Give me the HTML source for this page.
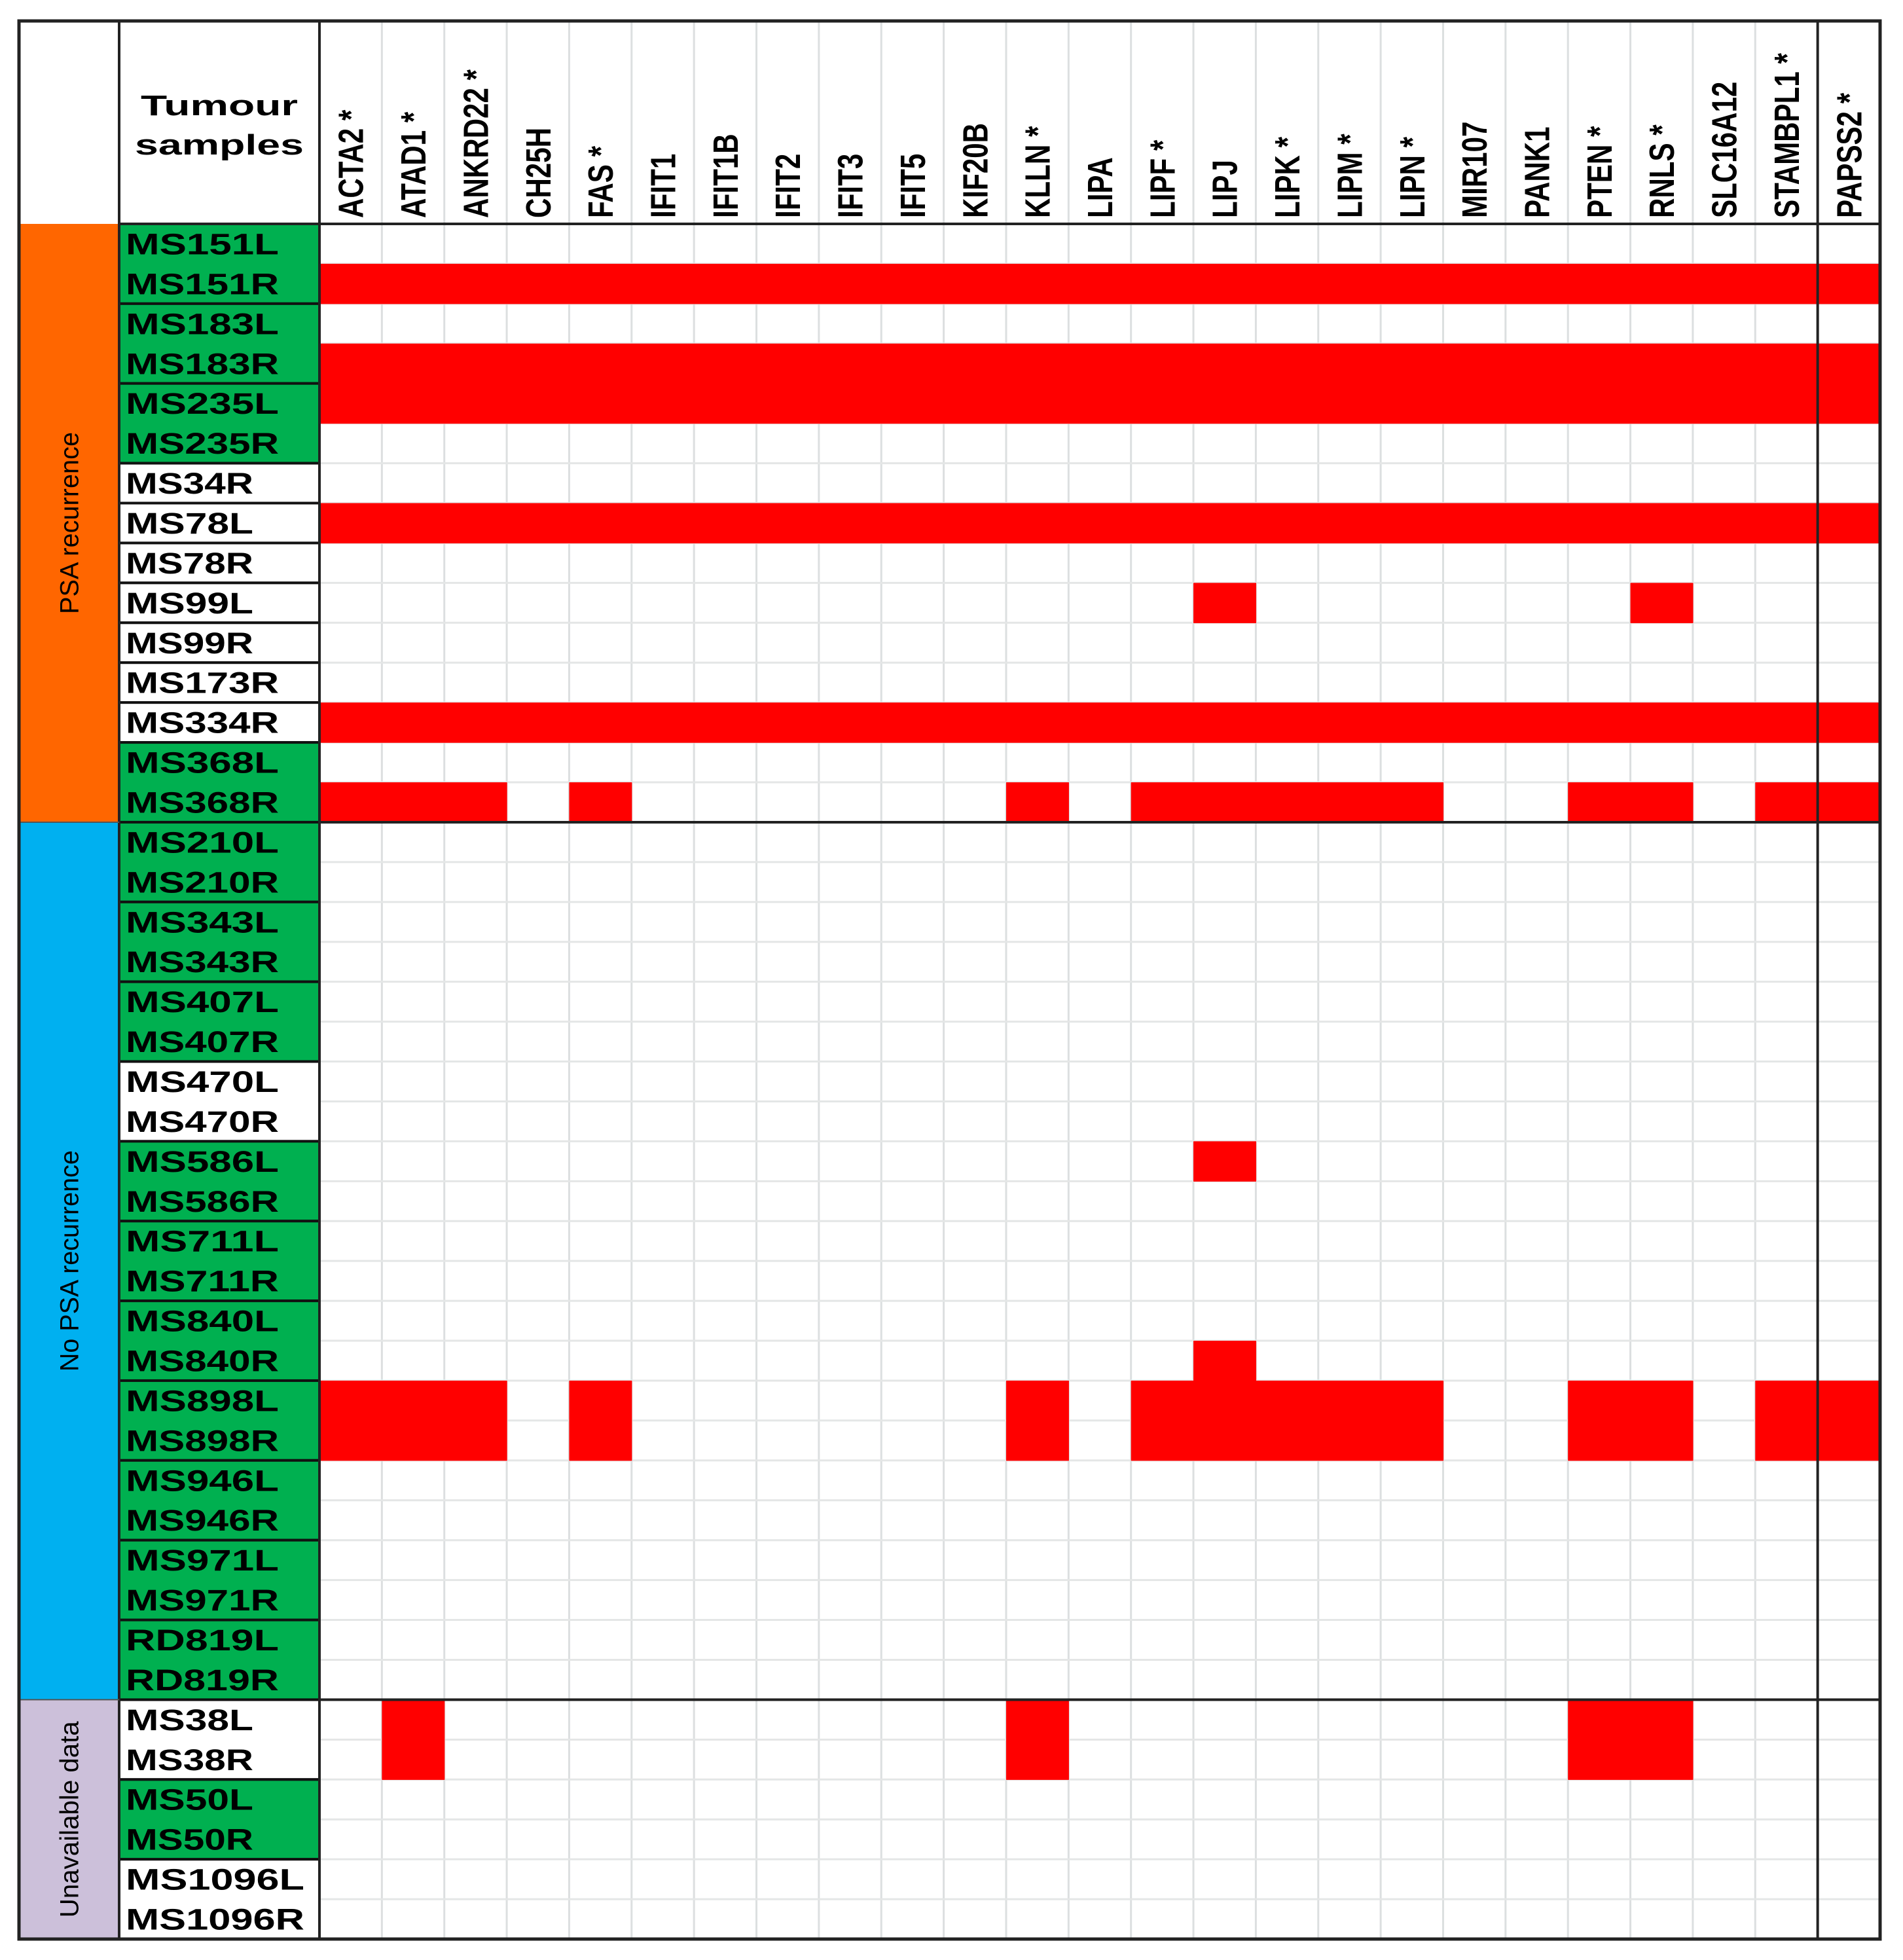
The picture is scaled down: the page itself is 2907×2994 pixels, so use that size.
<!DOCTYPE html>
<html><head><meta charset="utf-8"><style>
html,body{margin:0;padding:0;background:#fff;}
svg{display:block;}
</style></head><body>
<svg id="chart" width="2907" height="2994" viewBox="0 0 2907 2994" xmlns="http://www.w3.org/2000/svg"></svg>
<script>
const genes = ["ACTA2 *","ATAD1 *","ANKRD22 *","CH25H","FAS *","IFIT1","IFIT1B","IFIT2","IFIT3","IFIT5","KIF20B","KLLN *","LIPA","LIPF *","LIPJ","LIPK *","LIPM *","LIPN *","MIR107","PANK1","PTEN *","RNLS *","SLC16A12","STAMBPL1 *","PAPSS2 *"];
const samples = ["MS151L","MS151R","MS183L","MS183R","MS235L","MS235R","MS34R","MS78L","MS78R","MS99L","MS99R","MS173R","MS334R","MS368L","MS368R",
"MS210L","MS210R","MS343L","MS343R","MS407L","MS407R","MS470L","MS470R","MS586L","MS586R","MS711L","MS711R","MS840L","MS840R","MS898L","MS898R","MS946L","MS946R","MS971L","MS971R","RD819L","RD819R",
"MS38L","MS38R","MS50L","MS50R","MS1096L","MS1096R"];
// sample label blocks: [startRow, rowCount, green?]
const sampleBlocks = [[0,2,1],[2,2,1],[4,2,1],[6,1,0],[7,1,0],[8,1,0],[9,1,0],[10,1,0],[11,1,0],[12,1,0],[13,2,1],
[15,2,1],[17,2,1],[19,2,1],[21,2,0],[23,2,1],[25,2,1],[27,2,1],[29,2,1],[31,2,1],[33,2,1],[35,2,1],
[37,2,0],[39,2,1],[41,2,0]];
const groupNames = ["PSA recurrence","No PSA recurrence","Unavailable data"];
const groupRows = [15,22,6];
const groupColors = ["#ff6600","#00b0f0","#ccc0da"];
const ALL = genes.map((g,i)=>i);
const SET = [0,1,2,4,11,13,14,15,16,17,20,21,23,24];
const redCells = {1:ALL,3:ALL,4:ALL,7:ALL,12:ALL,9:[14,21],14:SET,23:[14],28:[14],29:SET,30:SET,37:[1,11,20,21],38:[1,11,20,21]};

const svg = document.getElementById('chart');
const NS = "http://www.w3.org/2000/svg";
const L=29, T=32, R=2872, B=2962, GX=182, SX=488, HY=342;
const colW=(R-SX)/genes.length, rowH=(B-HY)/samples.length;
const xOf=i=>SX+i*colW, yOf=r=>HY+r*rowH;
function el(tag, attrs, parent){const e=document.createElementNS(NS,tag);for(const k in attrs)e.setAttribute(k,attrs[k]);(parent||svg).appendChild(e);return e;}

// grid
const grid=el('g',{});


for(let i=0;i<=genes.length;i++) el('line',{x1:xOf(i),y1:T,x2:xOf(i),y2:B,stroke:'#dcdfe0','stroke-width':3},grid);
for(let r=0;r<=samples.length;r++) el('line',{x1:SX,y1:yOf(r),x2:R,y2:yOf(r),stroke:'#e4e6e6','stroke-width':3},grid);

// red cells
samples.forEach((s,r)=>{
  (redCells[r]||[]).forEach(c=>{
    const e=el('rect',{x:xOf(c),y:yOf(r),width:colW+0.6,height:rowH+0.6,fill:'#ff0000'});
    
    
  });
});

// group column
let gr=0;
groupNames.forEach((g,i)=>{
  const y0=yOf(gr), h=groupRows[i]*rowH;
  const e=el('rect',{x:L,y:y0,width:GX-L,height:h,fill:groupColors[i]});
  
  
  const cx=(L+GX)/2+14, cy=y0+h/2;
  const t=el('text',{x:cx,y:cy,transform:`rotate(-90 ${cx} ${cy})`,'text-anchor':'middle','font-family':'Liberation Sans, sans-serif','font-size':40,fill:'#000',textLength:[278,338,300][i],lengthAdjust:'spacingAndGlyphs'});
  t.textContent=g;
  
  
  gr+=groupRows[i];
});

// sample blocks
sampleBlocks.forEach(b=>{
  const e=el('rect',{x:GX,y:yOf(b[0]),width:SX-GX,height:b[1]*rowH,fill:b[2]?'#00b050':'#fff',stroke:'#111','stroke-width':4});
  
  
});
samples.forEach((s,r)=>{
  const t=el('text',{x:192,y:yOf(r)+rowH/2+16,'font-family':'Liberation Sans, sans-serif','font-weight':'bold','font-size':45,fill:'#000',textLength:s.length*39,lengthAdjust:'spacingAndGlyphs'});
  t.textContent=s;
  
  
});

// gene headers
genes.forEach((g,i)=>{
  const cx=xOf(i)+colW/2+19, cy=333;
  const t=el('text',{x:0,y:0,transform:`translate(${cx} ${cy}) rotate(-90) scale(0.78 1)`,'font-family':'Liberation Sans, sans-serif','font-weight':'bold','font-size':54,fill:'#000'});
  t.textContent=g;
  
  
});

// header title
const h1=el('text',{x:335,y:176,'text-anchor':'middle','font-family':'Liberation Sans, sans-serif','font-weight':'bold','font-size':44,textLength:240,lengthAdjust:'spacingAndGlyphs'});
h1.textContent='Tumour';


const h2=el('text',{x:335,y:236,'text-anchor':'middle','font-family':'Liberation Sans, sans-serif','font-weight':'bold','font-size':44,textLength:258,lengthAdjust:'spacingAndGlyphs'});
h2.textContent='samples';



// structural lines
const lines=el('g',{stroke:'#222','stroke-width':4});


el('line',{x1:GX,y1:T,x2:GX,y2:B},lines);
el('line',{x1:SX,y1:T,x2:SX,y2:B},lines);
el('line',{x1:xOf(24),y1:T,x2:xOf(24),y2:B},lines);
el('line',{x1:GX,y1:HY,x2:R,y2:HY},lines);
el('line',{x1:SX,y1:yOf(15),x2:R,y2:yOf(15)},lines);
el('line',{x1:SX,y1:yOf(37),x2:R,y2:yOf(37)},lines);
el('line',{x1:L,y1:yOf(15),x2:GX,y2:yOf(15),stroke:'#555','stroke-width':2},lines);
el('line',{x1:L,y1:yOf(37),x2:GX,y2:yOf(37),stroke:'#555','stroke-width':2},lines);
el('rect',{x:L,y:T,width:R-L,height:B-T,fill:'none','stroke-width':5},lines);
</script>
</body></html>
